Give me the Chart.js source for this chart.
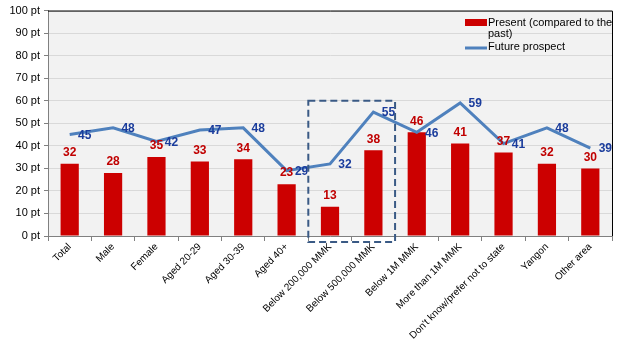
<!DOCTYPE html>
<html>
<head>
<meta charset="utf-8">
<script src="https://cdn.jsdelivr.net/npm/chart.js@4"></script>
<style>
html,body{margin:0;padding:0;background:#fff;}
#wrap{width:621px;height:354px;position:relative;}
</style>
</head>
<body>
<div id="wrap"><canvas id="c" width="621" height="354"></canvas></div>
<script>
const categories = ["Total","Male","Female","Aged 20-29","Aged 30-39","Aged 40+","Below 200,000 MMK","Below 500,000 MMK","Below 1M MMK","More than 1M MMK","Don't know/prefer not to state","Yangon","Other area"];
const presentValues = [32,28,35,33,34,23,13,38,46,41,37,32,30];
const futureValues = [45,48,42,47,48,29,32,55,46,59,41,48,39];
const seriesNames = ["Present (compared to the past)","Future prospect"];
const yTicks = [0,10,20,30,40,50,60,70,80,90,100];
const highlightRange = [6,7];
const highlightTop = 60;

const FONT = "'Liberation Sans', Arial, sans-serif";

const decor = {
  id:'decor',
  beforeDraw(chart){
    const {ctx, chartArea:a} = chart;
    ctx.save();
    ctx.fillStyle = '#f2f2f2';
    ctx.fillRect(a.left, a.top, a.right-a.left, a.bottom-a.top);
    ctx.restore();
  },
  afterDraw(chart){
    const {ctx, chartArea:a, scales} = chart;
    const x = scales.x, y = scales.y;
    ctx.save();
    // border top & right
    ctx.strokeStyle = '#000';
    ctx.lineWidth = 1;
    ctx.beginPath();
    ctx.moveTo(a.left, a.top+0.5); ctx.lineTo(a.right+0.5, a.top+0.5); ctx.lineTo(a.right+0.5, a.bottom);
    ctx.stroke();
    // data labels
    const m0 = chart.getDatasetMeta(0), m1 = chart.getDatasetMeta(1);
    ctx.font = "bold 12px " + FONT;
    ctx.textAlign = 'center';
    ctx.textBaseline = 'middle';
    ctx.fillStyle = '#c00000';
    m0.data.forEach((el,i)=>{
      ctx.fillText(String(presentValues[i]), el.x, el.y - 11);
    });
    ctx.fillStyle = '#1a3c9c';
    m1.data.forEach((el,i)=>{
      ctx.fillText(String(futureValues[i]), el.x + 15, el.y + 1);
    });
    // highlight dashed box
    const x0 = x.getPixelForValue(highlightRange[0]) - (x.getPixelForValue(1)-x.getPixelForValue(0))/2;
    const x1 = x.getPixelForValue(highlightRange[1]) + (x.getPixelForValue(1)-x.getPixelForValue(0))/2;
    const yt = y.getPixelForValue(highlightTop);
    const yb = a.bottom + 6;
    ctx.strokeStyle = '#3a5a85';
    ctx.lineWidth = 2;
    ctx.setLineDash([7,4]);
    ctx.strokeRect(x0, yt, x1-x0, yb-yt);
    ctx.setLineDash([]);
    // legend
    const lx = 465, ly = 19;
    ctx.fillStyle = '#cc0000';
    ctx.fillRect(lx, ly, 22, 7);
    ctx.font = "11px " + FONT;
    ctx.textAlign = 'left';
    ctx.fillStyle = '#000';
    const words = seriesNames[0].split(' ');
    let lines = [], cur = '';
    words.forEach(w=>{
      const t = cur ? cur + ' ' + w : w;
      if (ctx.measureText(t).width > 128 && cur) { lines.push(cur); cur = w; } else cur = t;
    });
    lines.push(cur);
    lines.forEach((l,i)=> ctx.fillText(l, lx+23, ly+4 + i*11));
    const ly2 = ly + 4 + lines.length*11 + 2;
    ctx.strokeStyle = '#4f81bd';
    ctx.lineWidth = 3;
    ctx.beginPath(); ctx.moveTo(lx, ly2+1); ctx.lineTo(lx+22, ly2+1); ctx.stroke();
    ctx.fillText(seriesNames[1], lx+23, ly2);
    ctx.restore();
  }
};

new Chart(document.getElementById('c'), {
  type:'bar',
  data:{
    labels: categories,
    datasets:[
      {type:'bar', label:seriesNames[0], data:presentValues, backgroundColor:'#cc0000', barPercentage:0.42, categoryPercentage:1.0, order:2},
      {type:'line', label:seriesNames[1], data:futureValues, borderColor:'#4f81bd', borderWidth:3, pointRadius:0, tension:0, fill:false, order:1}
    ]
  },
  options:{
    responsive:false,
    animation:false,
    layout:{padding:{top:9,right:9,left:0,bottom:0}},
    plugins:{legend:{display:false}, tooltip:{enabled:false}},
    scales:{
      x:{
        offset:true,
        grid:{offset:true, drawOnChartArea:false, color:'#808080', tickLength:5},
        border:{color:'#808080'},
        ticks:{font:{family:FONT,size:10}, color:'#000', maxRotation:45, minRotation:45, autoSkip:false, padding:0},
        afterFit(s){ s.height = 118; }
      },
      y:{
        min:0, max:100,
        afterBuildTicks(s){ s.ticks = yTicks.map(v=>({value:v})); },
        grid:{color:'#d9d9d9', tickColor:'#808080', tickLength:4},
        border:{color:'#808080'},
        ticks:{font:{family:FONT,size:11}, color:'#000', padding:4, callback:v=>v+' pt'},
        afterFit(s){ s.width = 48; }
      }
    }
  },
  plugins:[decor]
});
</script>
</body>
</html>
